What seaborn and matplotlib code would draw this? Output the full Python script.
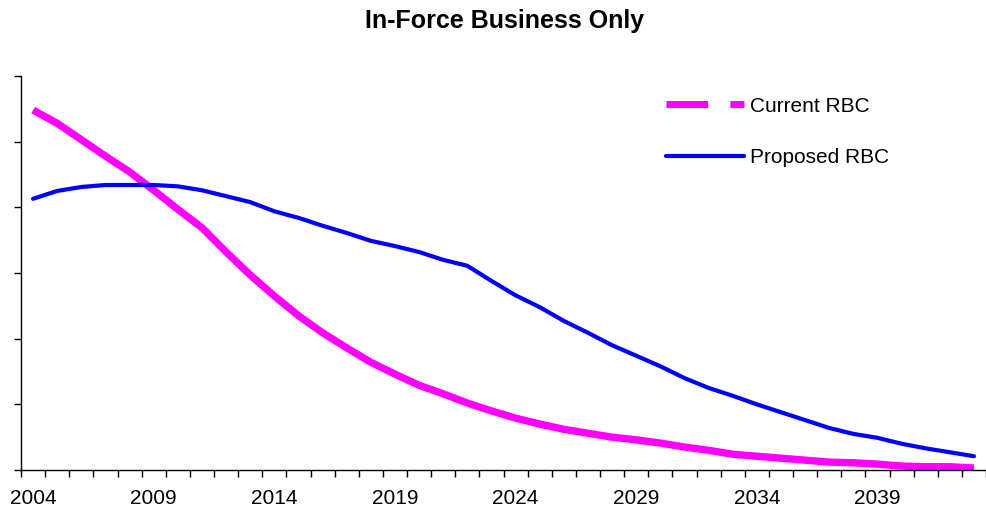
import numpy as np
import pandas as pd
import seaborn as sns
import matplotlib
matplotlib.use("Agg")
import matplotlib.pyplot as plt
from matplotlib.lines import Line2D

years = list(range(2004, 2044))
current_rbc = [5.48, 5.28, 5.03, 4.78, 4.54, 4.26, 3.97, 3.69, 3.32, 2.97,
               2.65, 2.35, 2.09, 1.86, 1.64, 1.46, 1.29, 1.16, 1.02, 0.90,
               0.79, 0.70, 0.62, 0.56, 0.50, 0.46, 0.41, 0.35, 0.30, 0.24,
               0.21, 0.18, 0.15, 0.12, 0.11, 0.09, 0.06, 0.05, 0.05, 0.03]
proposed_rbc = [4.13, 4.25, 4.31, 4.34, 4.34, 4.34, 4.32, 4.26, 4.17, 4.08,
                3.94, 3.84, 3.72, 3.61, 3.49, 3.41, 3.32, 3.20, 3.11, 2.88,
                2.66, 2.48, 2.27, 2.09, 1.90, 1.74, 1.58, 1.40, 1.25, 1.13,
                1.00, 0.88, 0.76, 0.64, 0.55, 0.49, 0.40, 0.33, 0.27, 0.21]
tick_labels = ["2004", "2009", "2014", "2019", "2024", "2029", "2034", "2039"]

sns.set_theme(style="white")
plt.rcParams['font.family'] = ['Liberation Sans', 'DejaVu Sans']
plt.rcParams['text.color'] = 'black'
plt.rcParams['xtick.color'] = 'black'
plt.rcParams['ytick.color'] = 'black'
plt.rcParams['axes.labelcolor'] = 'black'

idx = np.arange(len(years))
df = pd.DataFrame({
    "idx": np.concatenate([idx, idx]),
    "value": current_rbc + proposed_rbc,
    "series": ["Current RBC"] * len(years) + ["Proposed RBC"] * len(years),
})

fig = plt.figure(figsize=(9.86, 5.14), dpi=100)
ax = fig.add_axes([21 / 986, 1 - 470 / 514, 1 - 21 / 986, (470 - 76) / 514])

sns.lineplot(data=df[df.series == "Current RBC"], x="idx", y="value", color="#FF00FF",
             linewidth=5.3, ax=ax, legend=False, solid_capstyle="butt")
sns.lineplot(data=df[df.series == "Proposed RBC"], x="idx", y="value", color="#0000FF",
             linewidth=3, ax=ax, legend=False, solid_capstyle="round")

ax.set_xlim(-0.5, len(years) - 0.5)
ax.set_ylim(0, 6)
ax.set_xlabel("")
ax.set_ylabel("")

ax.set_xticks(np.arange(-0.5, len(years), 1.0))
ax.set_xticklabels([])
label_pos = [years.index(int(t)) for t in tick_labels]
ax.set_xticks(label_pos, minor=True)
ax.set_xticklabels(tick_labels, minor=True, fontsize=15, color="black")
ax.tick_params(axis="x", which="major", direction="out", length=5, width=1, color="black", bottom=True)
ax.tick_params(axis="x", which="minor", length=0, pad=14, bottom=True)
ax.set_yticks(np.arange(0, 7, 1))
ax.set_yticklabels([])
ax.tick_params(axis="y", which="major", direction="out", length=5, width=1, color="black", left=True)

for s in ["top", "right"]:
    ax.spines[s].set_visible(False)
for s in ["left", "bottom"]:
    ax.spines[s].set_color("black")
    ax.spines[s].set_linewidth(1)

handles = [
    Line2D([], [], color="#FF00FF", linewidth=5, dashes=(6, 3.2), solid_capstyle="butt"),
    Line2D([], [], color="#0000FF", linewidth=3, solid_capstyle="round"),
]
leg = fig.legend(handles, ["Current RBC", "Proposed RBC"], loc="upper left",
                 bbox_to_anchor=(647 / 986, 1 - 78 / 514), frameon=False, fontsize=15,
                 handlelength=3.75, handletextpad=0.3, labelspacing=1.55)
for t in leg.get_texts():
    t.set_color("black")

fig.suptitle("In-Force Business Only", fontsize=18, fontweight="bold", x=0.512, y=0.982,
             color="black")

fig.savefig("out.png", dpi=100)
